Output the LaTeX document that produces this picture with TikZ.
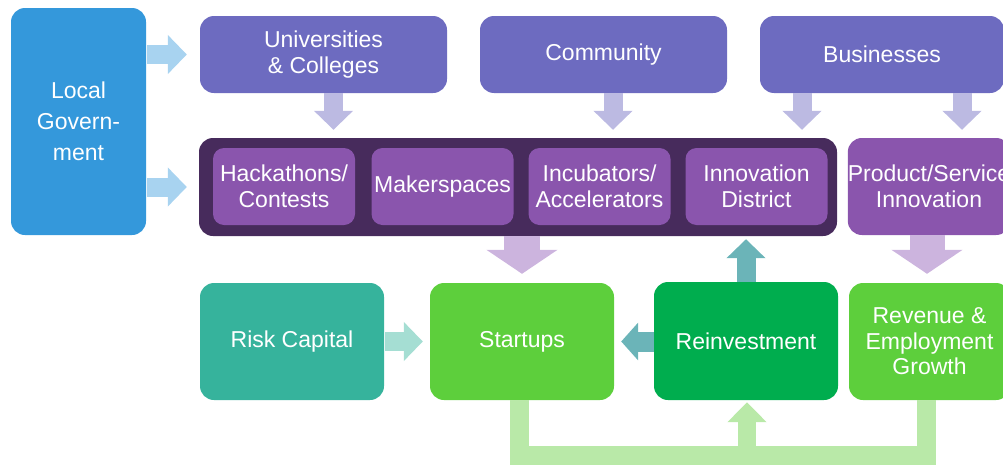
\documentclass[tikz,border=0pt]{standalone}
\usepackage{fontspec}
\setmainfont{Liberation Sans}
\usetikzlibrary{arrows.meta,calc}
\definecolor{cgov}{HTML}{3498DB}
\definecolor{ctop}{HTML}{6D6BC0}
\definecolor{ccont}{HTML}{472B5C}
\definecolor{cpurp}{HTML}{8A55AD}
\definecolor{cgovarr}{HTML}{A8D3F0}
\definecolor{ctoparr}{HTML}{BCBAE2}
\definecolor{cpurparr}{HTML}{CCB4DE}
\definecolor{crisk}{HTML}{36B39C}
\definecolor{criskarr}{HTML}{A5DED3}
\definecolor{cgreen}{HTML}{5DCF3C}
\definecolor{crein}{HTML}{00AD4E}
\definecolor{cteal}{HTML}{6BB4B8}
\definecolor{cfb}{HTML}{B9E9A8}
\tikzset{
  box/.style={rounded corners=14pt, inner sep=0pt, align=center, text=white,
    font=\fontsize{23}{25.5}\selectfont},
  inbox/.style={box, rounded corners=11pt, fill=cpurp, minimum width=142pt, minimum height=77pt},
  blk/.style={line width=19pt, -{Triangle[length=19pt,width=38pt]}},
  bigblk/.style={line width=36pt, -{Triangle[length=24pt,width=70pt]}},
}
\begin{document}
\begin{tikzpicture}[x=1pt,y=1pt]
\useasboundingbox (0,-466) rectangle (1003,0);
\clip (0,-466) rectangle (1003,0);
% boxes
\node[box, fill=cgov, minimum width=135pt, minimum height=227pt, font=\fontsize{23}{31}\selectfont] (lg) at (78.5,-121.5) {Local\\Govern-\\ment};
\node[box, fill=ctop, minimum width=247pt, minimum height=77pt] (uc) at (323.5,-54.5) {Universities\\\& Colleges};
\node[box, fill=ctop, minimum width=247pt, minimum height=77pt] (com) at (603.5,-54.5) {Community};
\node[box, fill=ctop, minimum width=244pt, minimum height=77pt] (bus) at (882,-54.5) {Businesses};
\node[box, fill=ccont, minimum width=638pt, minimum height=98pt] (cont) at (518,-187) {};
\node[inbox] (hack) at (284,-186.5) {Hackathons/\\Contests};
\node[inbox] (mak) at (442.5,-186.5) {Makerspaces};
\node[inbox] (inc) at (599.5,-186.5) {Incubators/\\Accelerators};
\node[inbox] (ind) at (756.5,-186.5) {Innovation\\District};
\node[box, fill=cpurp, minimum width=162pt, minimum height=97pt] (prod) at (929,-186.5) {Product/Service\\Innovation};
\node[box, fill=crisk, minimum width=184pt, minimum height=117pt] (risk) at (292,-341.5) {Risk Capital};
\node[box, fill=cgreen, minimum width=184pt, minimum height=117pt] (start) at (522,-341.5) {Startups};
\node[box, fill=crein, minimum width=184pt, minimum height=118pt] (rein) at (746,-341) {Reinvestment};
\node[box, fill=cgreen, minimum width=161pt, minimum height=117pt] (rev) at (929.5,-341.5) {Revenue \&\\Employment\\Growth};
% arrow anchors
\coordinate (ua) at ($(uc.south)+(10,0)$);
\coordinate (ca) at ($(com.south)+(9.5,0)$);
\coordinate (ba) at ($(bus.south)+(-80,0)$);
\coordinate (bb) at ($(bus.south)+(80,0)$);
\coordinate (pa) at ($(prod.south)+(-2,0)$);
\coordinate (ra) at ($(rein.south)+(1,0)$);
\coordinate (fl) at ($(start.south)+(-2.5,0)$);
\coordinate (fr) at ($(rev.south)+(-3,0)$);
\coordinate (fb) at ($(fl)+(0,-55)$);
% arrows
\draw[blk, cgovarr, shorten <=1pt, shorten >=13pt] (lg.east |- uc.west) -- (uc.west);
\draw[blk, cgovarr, shorten <=1pt, shorten >=12pt] (lg.east |- cont.west) -- (cont.west);
\draw[blk, ctoparr, shorten >=8pt] (ua) -- (ua |- cont.north);
\draw[blk, ctoparr, shorten >=8pt] (ca) -- (ca |- cont.north);
\draw[blk, ctoparr, shorten >=8pt] (ba) -- (ba |- cont.north);
\draw[blk, ctoparr, shorten >=8pt] (bb) -- (bb |- prod.north);
\draw[bigblk, cpurparr, shorten >=9pt] (cont.south -| start.north) -- (start.north);
\draw[bigblk, cpurparr, shorten >=9pt, line width=35pt] (pa) -- (pa |- rev.north);
\draw[blk, cteal, shorten >=3pt] (rein.north) -- (rein.north |- cont.south);
\draw[blk, cteal, line width=20pt, -{Triangle[length=17pt,width=37pt]}, shorten >=7pt] (rein.west |- start.east) -- (start.east);
\draw[blk, criskarr, shorten <=1pt, shorten >=7pt] (risk.east) -- (start.west);
% feedback loop
\draw[cfb, line width=19pt, line join=miter] (fl) -- (fb) -| (fr);
\draw[blk, cfb, line width=18pt, -{Triangle[length=20pt,width=38pt]}, shorten >=2pt] (ra |- fb) -- (ra);
\end{tikzpicture}
\end{document}
